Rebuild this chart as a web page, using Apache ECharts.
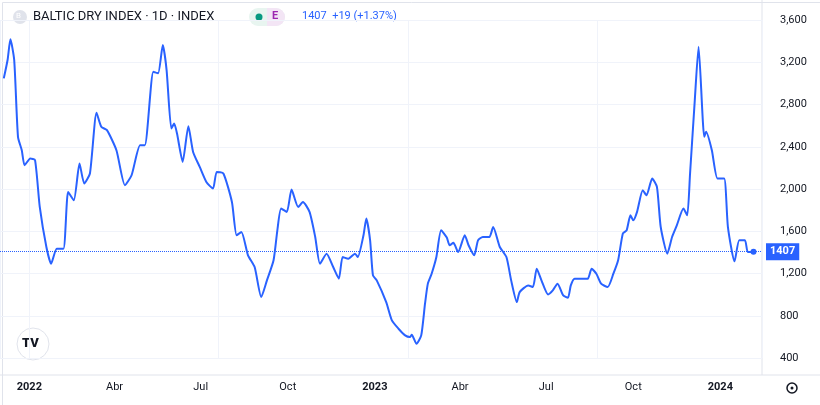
<!DOCTYPE html>
<html><head><meta charset="utf-8">
<script src="https://cdn.jsdelivr.net/npm/echarts@6/dist/echarts.min.js"></script>
<style>html,body{margin:0;padding:0;background:#fff}#c{width:820px;height:405px}</style>
</head><body><div id="c"></div>
<script>
// days since 2022-01-01
const dayOffsets = [-27,-23,-20,-16,-12,-8,-5,1,6,11,18,23,29,36,41,47,53,58,64,71,76,82,92,101,108,117,122,131,136,141,145,150,153,156,162,168,173,180,187,194,198,205,214,219,224,231,238,245,251,258,262,266,272,277,284,289,296,302,307,314,321,327,331,337,344,347,353,356,360,363,367,377,383,390,397,402,404,409,414,418,421,425,430,435,441,444,448,453,460,464,470,474,479,486,490,497,504,509,515,518,527,532,536,541,548,553,558,564,569,572,576,585,590,594,599,604,611,617,622,627,631,635,638,642,648,652,658,663,667,674,679,684,691,695,698,703,707,713,715,721,727,734,738,745,750,756,759,765];
const bdi = [3047,3221,3417,3221,2494,2367,2225,2289,2273,1830,1451,1293,1435,1435,1972,1893,2241,2052,2147,2721,2589,2557,2367,2036,2130,2415,2415,3110,3095,3363,3126,2573,2620,2525,2257,2595,2351,2209,2067,2004,2162,2147,1877,1562,1593,1372,1261,977,1135,1325,1609,1815,1783,1995,1830,1877,1783,1546,1293,1388,1261,1151,1356,1340,1388,1356,1562,1720,1514,1182,1135,929,756,677,614,598,620,535,614,914,1104,1198,1356,1609,1540,1467,1490,1403,1562,1467,1372,1514,1546,1546,1640,1451,1356,1135,929,1024,1087,1072,1246,1135,1002,1040,1104,993,970,1087,1151,1151,1151,1246,1198,1104,1072,1198,1325,1578,1609,1751,1704,1783,1988,1940,2099,2020,1640,1388,1546,1656,1815,1751,2147,2842,3347,2494,2541,2367,2099,2099,1640,1315,1514,1514,1403,1407];
const tickDays = [0,90,181,273,365,455,546,638,730];
const tickLabels = ['2022','Abr','Jul','Oct','2023','Abr','Jul','Oct','2024'];
const yTicks = [400,800,1200,1600,2000,2400,2800,3200,3600];
const lastValue = 1407;

const chart = echarts.init(document.getElementById('c'));
const data = dayOffsets.map((d,i)=>[d,bdi[i]]);
const bold = new Set(['2022','2023','2024']);
chart.setOption({
  animation:false,
  grid:{left:0,right:58,top:20,bottom:47},
  xAxis:{type:'value',min:-31,max:774,
    axisLine:{show:false},axisTick:{show:false},
    axisLabel:{customValues:tickDays,margin:24,fontSize:11,fontFamily:'Roboto',
      formatter:v=>{const i=tickDays.indexOf(v);const t=tickLabels[i];return bold.has(t)?'{b|'+t+'}':t;},
      color:'#131722',rich:{b:{fontWeight:'bold',fontSize:11,fontFamily:'Roboto',color:'#131722'}}},
    splitLine:{show:true,lineStyle:{color:'#f0f3fa'}}
  },
  yAxis:{type:'value',position:'right',min:400,max:3600,interval:400,
    axisLine:{show:false},axisTick:{show:false},
    axisLabel:{margin:18,fontSize:11,fontFamily:'Roboto',color:'#131722'},
    splitLine:{lineStyle:{color:'#f0f3fa'}}},
  series:[{type:'line',data,showSymbol:false,smooth:0.2,
    lineStyle:{color:'#2962ff',width:2},
    markLine:{silent:true,symbol:'none',
      data:[{yAxis:lastValue}],
      lineStyle:{color:'#2962ff',type:'dotted',width:1},
      label:{position:'end',formatter:String(lastValue),backgroundColor:'#2962ff',color:'#fff',
        padding:[3,4],fontSize:11,fontWeight:'bold',fontFamily:'Roboto',distance:4}},
    markPoint:{symbol:'circle',symbolSize:6,itemStyle:{color:'#2962ff'},label:{show:false},
      data:[{coord:[dayOffsets[dayOffsets.length-1],lastValue]}]}
  }],
  graphic:[
    {type:'rect',left:0,top:0,shape:{width:819,height:404},style:{fill:'none',stroke:'#e0e3eb'}},
    {type:'line',shape:{x1:762,y1:0,x2:762,y2:375},style:{stroke:'#e0e3eb'}},
    {type:'line',shape:{x1:0,y1:375,x2:820,y2:375},style:{stroke:'#e0e3eb'}},
    {type:'circle',shape:{cx:20,cy:17,r:7},style:{fill:'#e0e3eb'}},
    {type:'text',left:16,top:12,style:{text:'B',fill:'#fff',fontSize:8,fontFamily:'Roboto'}},
    {type:'text',left:33,top:10,style:{text:'BALTIC DRY INDEX · 1D · INDEX',fill:'#131722',fontSize:13,fontFamily:'Roboto'}},
    {type:'rect',left:249,top:8,shape:{width:36,height:18,r:9},style:{fill:'#e8f5f0'}},
    {type:'rect',left:267,top:8,shape:{width:18,height:18,r:[0,9,9,0]},style:{fill:'#f3e5f5'}},
    {type:'circle',shape:{cx:259,cy:17,r:3.5},style:{fill:'#089981'}},
    {type:'text',left:272,top:11,style:{text:'E',fill:'#9c27b0',fontSize:11,fontWeight:'bold',fontFamily:'Roboto'}},
    {type:'text',left:302,top:11,style:{text:'1407  +19 (+1.37%)',fill:'#2962ff',fontSize:11,fontFamily:'Roboto'}},
    {type:'circle',shape:{cx:33,cy:344,r:16},style:{fill:'#fff',stroke:'#e0e3eb',lineWidth:1}},
    {type:'text',left:22,top:337,style:{text:'TV',fill:'#131722',fontSize:13,fontWeight:'900',fontFamily:'Roboto'}},
    {type:'circle',shape:{cx:792,cy:388,r:5},style:{fill:'none',stroke:'#131722',lineWidth:1.5}},
    {type:'circle',shape:{cx:792,cy:388,r:1.5},style:{fill:'#131722'}}
  ]
});
</script></body></html>
